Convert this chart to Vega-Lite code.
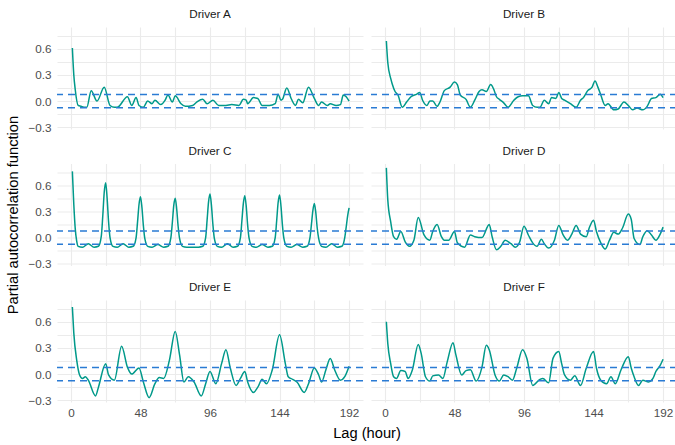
{
  "$schema": "https://vega.github.io/schema/vega-lite/v6.json",
  "background": "white",
  "padding": {"top": 9, "left": 5, "right": 0, "bottom": 5},
  "config": {
    "font": "Liberation Sans",
    "view": {"stroke": null},
    "axis": {
      "grid": true, "gridColor": "#EBEBEB", "gridWidth": 1.1,
      "domain": false, "ticks": false, "tickSize": 0,
      "labelColor": "#4D4D4D", "labelFontSize": 11.7, "labelFont": "Liberation Sans",
      "labelPadding": 5, "labelOverlap": false, "title": null
    },
    "header": {
      "labelFont": "Liberation Sans", "labelFontSize": 11.7, "labelColor": "#1A1A1A",
      "titleFont": "Liberation Sans", "titleFontSize": 14.7, "titleColor": "#000000", "titleFontWeight": "normal"
    }
  },
  "datasets": {
    "ylab": [{"t": "Partial autocorrelation function"}],
    "pacf": [
      {"driver":"Driver A","lag":1,"pacf":0.61},{"driver":"Driver A","lag":2,"pacf":0.3},{"driver":"Driver A","lag":3,"pacf":0.13},{"driver":"Driver A","lag":5,"pacf":-0.05},{"driver":"Driver A","lag":7,"pacf":-0.06},{"driver":"Driver A","lag":9,"pacf":-0.07},{"driver":"Driver A","lag":11,"pacf":-0.07},{"driver":"Driver A","lag":14,"pacf":0.12},{"driver":"Driver A","lag":18,"pacf":0.0},{"driver":"Driver A","lag":23,"pacf":0.16},{"driver":"Driver A","lag":27,"pacf":-0.05},{"driver":"Driver A","lag":30,"pacf":-0.07},{"driver":"Driver A","lag":32,"pacf":-0.07},{"driver":"Driver A","lag":39,"pacf":0.05},{"driver":"Driver A","lag":42,"pacf":-0.05},{"driver":"Driver A","lag":45,"pacf":0.04},{"driver":"Driver A","lag":47,"pacf":-0.05},{"driver":"Driver A","lag":50,"pacf":-0.07},{"driver":"Driver A","lag":53,"pacf":0.0},{"driver":"Driver A","lag":56,"pacf":-0.03},{"driver":"Driver A","lag":58,"pacf":0.01},{"driver":"Driver A","lag":62,"pacf":-0.04},{"driver":"Driver A","lag":65,"pacf":0.01},{"driver":"Driver A","lag":67,"pacf":0.07},{"driver":"Driver A","lag":70,"pacf":-0.01},{"driver":"Driver A","lag":72,"pacf":0.06},{"driver":"Driver A","lag":76,"pacf":-0.03},{"driver":"Driver A","lag":79,"pacf":-0.06},{"driver":"Driver A","lag":84,"pacf":-0.05},{"driver":"Driver A","lag":87,"pacf":-0.01},{"driver":"Driver A","lag":91,"pacf":0.02},{"driver":"Driver A","lag":94,"pacf":-0.03},{"driver":"Driver A","lag":98,"pacf":0.01},{"driver":"Driver A","lag":102,"pacf":-0.05},{"driver":"Driver A","lag":107,"pacf":-0.05},{"driver":"Driver A","lag":111,"pacf":-0.04},{"driver":"Driver A","lag":116,"pacf":-0.05},{"driver":"Driver A","lag":119,"pacf":0.02},{"driver":"Driver A","lag":121,"pacf":0.01},{"driver":"Driver A","lag":122,"pacf":-0.03},{"driver":"Driver A","lag":126,"pacf":0.04},{"driver":"Driver A","lag":129,"pacf":0.03},{"driver":"Driver A","lag":132,"pacf":-0.05},{"driver":"Driver A","lag":137,"pacf":-0.05},{"driver":"Driver A","lag":141,"pacf":-0.03},{"driver":"Driver A","lag":143,"pacf":0.08},{"driver":"Driver A","lag":145,"pacf":0.01},{"driver":"Driver A","lag":146,"pacf":0.02},{"driver":"Driver A","lag":149,"pacf":0.15},{"driver":"Driver A","lag":152,"pacf":0.03},{"driver":"Driver A","lag":155,"pacf":-0.05},{"driver":"Driver A","lag":157,"pacf":0.02},{"driver":"Driver A","lag":160,"pacf":-0.02},{"driver":"Driver A","lag":164,"pacf":0.16},{"driver":"Driver A","lag":168,"pacf":0.03},{"driver":"Driver A","lag":171,"pacf":-0.05},{"driver":"Driver A","lag":173,"pacf":-0.01},{"driver":"Driver A","lag":177,"pacf":-0.05},{"driver":"Driver A","lag":179,"pacf":-0.03},{"driver":"Driver A","lag":183,"pacf":-0.05},{"driver":"Driver A","lag":186,"pacf":-0.04},{"driver":"Driver A","lag":188,"pacf":0.07},{"driver":"Driver A","lag":190,"pacf":0.05},{"driver":"Driver A","lag":192,"pacf":0.0},

      {"driver":"Driver B","lag":1,"pacf":0.69},{"driver":"Driver B","lag":2,"pacf":0.44},{"driver":"Driver B","lag":4,"pacf":0.26},{"driver":"Driver B","lag":5,"pacf":0.2},{"driver":"Driver B","lag":7,"pacf":0.11},{"driver":"Driver B","lag":9,"pacf":0.07},{"driver":"Driver B","lag":12,"pacf":-0.07},{"driver":"Driver B","lag":15,"pacf":-0.01},{"driver":"Driver B","lag":18,"pacf":0.05},{"driver":"Driver B","lag":22,"pacf":0.08},{"driver":"Driver B","lag":24,"pacf":0.1},{"driver":"Driver B","lag":26,"pacf":0.01},{"driver":"Driver B","lag":29,"pacf":-0.05},{"driver":"Driver B","lag":31,"pacf":0.0},{"driver":"Driver B","lag":33,"pacf":0.0},{"driver":"Driver B","lag":36,"pacf":-0.06},{"driver":"Driver B","lag":38,"pacf":-0.01},{"driver":"Driver B","lag":41,"pacf":0.12},{"driver":"Driver B","lag":45,"pacf":0.16},{"driver":"Driver B","lag":48,"pacf":0.22},{"driver":"Driver B","lag":50,"pacf":0.19},{"driver":"Driver B","lag":52,"pacf":0.07},{"driver":"Driver B","lag":56,"pacf":0.02},{"driver":"Driver B","lag":59,"pacf":-0.07},{"driver":"Driver B","lag":62,"pacf":0.01},{"driver":"Driver B","lag":65,"pacf":0.11},{"driver":"Driver B","lag":67,"pacf":0.13},{"driver":"Driver B","lag":70,"pacf":0.11},{"driver":"Driver B","lag":73,"pacf":0.19},{"driver":"Driver B","lag":75,"pacf":0.14},{"driver":"Driver B","lag":77,"pacf":0.05},{"driver":"Driver B","lag":79,"pacf":0.02},{"driver":"Driver B","lag":82,"pacf":-0.02},{"driver":"Driver B","lag":85,"pacf":-0.07},{"driver":"Driver B","lag":89,"pacf":0.01},{"driver":"Driver B","lag":92,"pacf":0.05},{"driver":"Driver B","lag":95,"pacf":0.06},{"driver":"Driver B","lag":99,"pacf":0.06},{"driver":"Driver B","lag":102,"pacf":-0.05},{"driver":"Driver B","lag":105,"pacf":-0.07},{"driver":"Driver B","lag":107,"pacf":-0.07},{"driver":"Driver B","lag":110,"pacf":0.01},{"driver":"Driver B","lag":113,"pacf":-0.03},{"driver":"Driver B","lag":115,"pacf":0.04},{"driver":"Driver B","lag":118,"pacf":0.03},{"driver":"Driver B","lag":120,"pacf":0.1},{"driver":"Driver B","lag":122,"pacf":0.03},{"driver":"Driver B","lag":124,"pacf":0.01},{"driver":"Driver B","lag":128,"pacf":-0.03},{"driver":"Driver B","lag":132,"pacf":-0.07},{"driver":"Driver B","lag":135,"pacf":0.01},{"driver":"Driver B","lag":137,"pacf":0.04},{"driver":"Driver B","lag":140,"pacf":0.12},{"driver":"Driver B","lag":143,"pacf":0.16},{"driver":"Driver B","lag":145,"pacf":0.23},{"driver":"Driver B","lag":147,"pacf":0.16},{"driver":"Driver B","lag":149,"pacf":0.07},{"driver":"Driver B","lag":152,"pacf":-0.05},{"driver":"Driver B","lag":154,"pacf":-0.03},{"driver":"Driver B","lag":158,"pacf":-0.1},{"driver":"Driver B","lag":161,"pacf":-0.09},{"driver":"Driver B","lag":165,"pacf":-0.01},{"driver":"Driver B","lag":168,"pacf":-0.05},{"driver":"Driver B","lag":171,"pacf":-0.1},{"driver":"Driver B","lag":174,"pacf":-0.08},{"driver":"Driver B","lag":178,"pacf":-0.1},{"driver":"Driver B","lag":181,"pacf":-0.06},{"driver":"Driver B","lag":184,"pacf":0.03},{"driver":"Driver B","lag":187,"pacf":0.04},{"driver":"Driver B","lag":190,"pacf":0.08},{"driver":"Driver B","lag":192,"pacf":0.04},

      {"driver":"Driver C","lag":1,"pacf":0.76},{"driver":"Driver C","lag":2,"pacf":0.38},{"driver":"Driver C","lag":3,"pacf":0.1},{"driver":"Driver C","lag":4,"pacf":-0.04},{"driver":"Driver C","lag":5,"pacf":-0.1},{"driver":"Driver C","lag":8,"pacf":-0.11},{"driver":"Driver C","lag":12,"pacf":-0.07},{"driver":"Driver C","lag":16,"pacf":-0.11},{"driver":"Driver C","lag":19,"pacf":-0.1},{"driver":"Driver C","lag":21,"pacf":0.02},{"driver":"Driver C","lag":22,"pacf":0.25},{"driver":"Driver C","lag":23,"pacf":0.52},{"driver":"Driver C","lag":24,"pacf":0.63},{"driver":"Driver C","lag":25,"pacf":0.45},{"driver":"Driver C","lag":26,"pacf":0.18},{"driver":"Driver C","lag":27,"pacf":0.0},{"driver":"Driver C","lag":29,"pacf":-0.1},{"driver":"Driver C","lag":32,"pacf":-0.11},{"driver":"Driver C","lag":36,"pacf":-0.07},{"driver":"Driver C","lag":40,"pacf":-0.11},{"driver":"Driver C","lag":43,"pacf":-0.1},{"driver":"Driver C","lag":45,"pacf":0.0},{"driver":"Driver C","lag":46,"pacf":0.18},{"driver":"Driver C","lag":47,"pacf":0.38},{"driver":"Driver C","lag":48,"pacf":0.47},{"driver":"Driver C","lag":49,"pacf":0.35},{"driver":"Driver C","lag":50,"pacf":0.14},{"driver":"Driver C","lag":51,"pacf":-0.01},{"driver":"Driver C","lag":53,"pacf":-0.1},{"driver":"Driver C","lag":56,"pacf":-0.11},{"driver":"Driver C","lag":60,"pacf":-0.08},{"driver":"Driver C","lag":64,"pacf":-0.11},{"driver":"Driver C","lag":67,"pacf":-0.1},{"driver":"Driver C","lag":69,"pacf":0.0},{"driver":"Driver C","lag":70,"pacf":0.17},{"driver":"Driver C","lag":71,"pacf":0.37},{"driver":"Driver C","lag":72,"pacf":0.45},{"driver":"Driver C","lag":73,"pacf":0.33},{"driver":"Driver C","lag":74,"pacf":0.13},{"driver":"Driver C","lag":75,"pacf":-0.01},{"driver":"Driver C","lag":77,"pacf":-0.1},{"driver":"Driver C","lag":80,"pacf":-0.11},{"driver":"Driver C","lag":84,"pacf":-0.11},{"driver":"Driver C","lag":88,"pacf":-0.11},{"driver":"Driver C","lag":91,"pacf":-0.1},{"driver":"Driver C","lag":93,"pacf":0.0},{"driver":"Driver C","lag":94,"pacf":0.2},{"driver":"Driver C","lag":95,"pacf":0.41},{"driver":"Driver C","lag":96,"pacf":0.5},{"driver":"Driver C","lag":97,"pacf":0.37},{"driver":"Driver C","lag":98,"pacf":0.15},{"driver":"Driver C","lag":99,"pacf":-0.01},{"driver":"Driver C","lag":101,"pacf":-0.1},{"driver":"Driver C","lag":104,"pacf":-0.11},{"driver":"Driver C","lag":108,"pacf":-0.07},{"driver":"Driver C","lag":112,"pacf":-0.11},{"driver":"Driver C","lag":115,"pacf":-0.1},{"driver":"Driver C","lag":117,"pacf":0.0},{"driver":"Driver C","lag":118,"pacf":0.19},{"driver":"Driver C","lag":119,"pacf":0.39},{"driver":"Driver C","lag":120,"pacf":0.48},{"driver":"Driver C","lag":121,"pacf":0.36},{"driver":"Driver C","lag":122,"pacf":0.14},{"driver":"Driver C","lag":123,"pacf":-0.01},{"driver":"Driver C","lag":125,"pacf":-0.1},{"driver":"Driver C","lag":128,"pacf":-0.11},{"driver":"Driver C","lag":132,"pacf":-0.08},{"driver":"Driver C","lag":136,"pacf":-0.11},{"driver":"Driver C","lag":139,"pacf":-0.1},{"driver":"Driver C","lag":141,"pacf":0.0},{"driver":"Driver C","lag":142,"pacf":0.19},{"driver":"Driver C","lag":143,"pacf":0.4},{"driver":"Driver C","lag":144,"pacf":0.49},{"driver":"Driver C","lag":145,"pacf":0.36},{"driver":"Driver C","lag":146,"pacf":0.14},{"driver":"Driver C","lag":147,"pacf":-0.01},{"driver":"Driver C","lag":149,"pacf":-0.1},{"driver":"Driver C","lag":152,"pacf":-0.11},{"driver":"Driver C","lag":156,"pacf":-0.08},{"driver":"Driver C","lag":160,"pacf":-0.11},{"driver":"Driver C","lag":163,"pacf":-0.1},{"driver":"Driver C","lag":165,"pacf":0.0},{"driver":"Driver C","lag":166,"pacf":0.15},{"driver":"Driver C","lag":167,"pacf":0.31},{"driver":"Driver C","lag":168,"pacf":0.39},{"driver":"Driver C","lag":169,"pacf":0.29},{"driver":"Driver C","lag":170,"pacf":0.11},{"driver":"Driver C","lag":171,"pacf":-0.01},{"driver":"Driver C","lag":173,"pacf":-0.1},{"driver":"Driver C","lag":176,"pacf":-0.11},{"driver":"Driver C","lag":180,"pacf":-0.07},{"driver":"Driver C","lag":184,"pacf":-0.11},{"driver":"Driver C","lag":187,"pacf":-0.1},{"driver":"Driver C","lag":189,"pacf":0.0},{"driver":"Driver C","lag":190,"pacf":0.12},{"driver":"Driver C","lag":191,"pacf":0.25},{"driver":"Driver C","lag":192,"pacf":0.34},

      {"driver":"Driver D","lag":1,"pacf":0.8},{"driver":"Driver D","lag":2,"pacf":0.43},{"driver":"Driver D","lag":4,"pacf":0.18},{"driver":"Driver D","lag":6,"pacf":0.01},{"driver":"Driver D","lag":8,"pacf":-0.02},{"driver":"Driver D","lag":11,"pacf":0.07},{"driver":"Driver D","lag":14,"pacf":-0.05},{"driver":"Driver D","lag":17,"pacf":-0.1},{"driver":"Driver D","lag":20,"pacf":-0.03},{"driver":"Driver D","lag":23,"pacf":0.23},{"driver":"Driver D","lag":27,"pacf":0.03},{"driver":"Driver D","lag":31,"pacf":-0.03},{"driver":"Driver D","lag":33,"pacf":0.07},{"driver":"Driver D","lag":36,"pacf":0.15},{"driver":"Driver D","lag":39,"pacf":0.01},{"driver":"Driver D","lag":41,"pacf":-0.03},{"driver":"Driver D","lag":44,"pacf":-0.03},{"driver":"Driver D","lag":48,"pacf":0.07},{"driver":"Driver D","lag":50,"pacf":-0.06},{"driver":"Driver D","lag":55,"pacf":-0.11},{"driver":"Driver D","lag":59,"pacf":0.03},{"driver":"Driver D","lag":62,"pacf":0.01},{"driver":"Driver D","lag":67,"pacf":0.0},{"driver":"Driver D","lag":72,"pacf":0.15},{"driver":"Driver D","lag":74,"pacf":0.01},{"driver":"Driver D","lag":77,"pacf":-0.14},{"driver":"Driver D","lag":80,"pacf":-0.1},{"driver":"Driver D","lag":83,"pacf":-0.03},{"driver":"Driver D","lag":87,"pacf":-0.07},{"driver":"Driver D","lag":90,"pacf":-0.11},{"driver":"Driver D","lag":93,"pacf":-0.05},{"driver":"Driver D","lag":96,"pacf":0.13},{"driver":"Driver D","lag":99,"pacf":0.03},{"driver":"Driver D","lag":102,"pacf":-0.06},{"driver":"Driver D","lag":105,"pacf":-0.1},{"driver":"Driver D","lag":108,"pacf":-0.02},{"driver":"Driver D","lag":110,"pacf":-0.07},{"driver":"Driver D","lag":113,"pacf":-0.12},{"driver":"Driver D","lag":117,"pacf":-0.03},{"driver":"Driver D","lag":120,"pacf":0.14},{"driver":"Driver D","lag":123,"pacf":0.03},{"driver":"Driver D","lag":126,"pacf":-0.03},{"driver":"Driver D","lag":129,"pacf":0.04},{"driver":"Driver D","lag":132,"pacf":0.14},{"driver":"Driver D","lag":135,"pacf":0.04},{"driver":"Driver D","lag":139,"pacf":0.01},{"driver":"Driver D","lag":141,"pacf":0.11},{"driver":"Driver D","lag":144,"pacf":0.2},{"driver":"Driver D","lag":146,"pacf":0.07},{"driver":"Driver D","lag":149,"pacf":-0.06},{"driver":"Driver D","lag":152,"pacf":-0.13},{"driver":"Driver D","lag":155,"pacf":-0.03},{"driver":"Driver D","lag":158,"pacf":0.06},{"driver":"Driver D","lag":161,"pacf":0.04},{"driver":"Driver D","lag":164,"pacf":0.11},{"driver":"Driver D","lag":168,"pacf":0.27},{"driver":"Driver D","lag":170,"pacf":0.21},{"driver":"Driver D","lag":172,"pacf":-0.01},{"driver":"Driver D","lag":176,"pacf":-0.08},{"driver":"Driver D","lag":178,"pacf":0.01},{"driver":"Driver D","lag":181,"pacf":0.08},{"driver":"Driver D","lag":184,"pacf":0.03},{"driver":"Driver D","lag":187,"pacf":-0.03},{"driver":"Driver D","lag":190,"pacf":0.04},{"driver":"Driver D","lag":192,"pacf":0.12},

      {"driver":"Driver E","lag":1,"pacf":0.77},{"driver":"Driver E","lag":2,"pacf":0.47},{"driver":"Driver E","lag":4,"pacf":0.16},{"driver":"Driver E","lag":6,"pacf":-0.01},{"driver":"Driver E","lag":8,"pacf":-0.05},{"driver":"Driver E","lag":10,"pacf":-0.03},{"driver":"Driver E","lag":12,"pacf":-0.07},{"driver":"Driver E","lag":17,"pacf":-0.25},{"driver":"Driver E","lag":19,"pacf":-0.15},{"driver":"Driver E","lag":24,"pacf":0.12},{"driver":"Driver E","lag":26,"pacf":-0.01},{"driver":"Driver E","lag":30,"pacf":-0.07},{"driver":"Driver E","lag":35,"pacf":0.32},{"driver":"Driver E","lag":39,"pacf":0.08},{"driver":"Driver E","lag":42,"pacf":0.0},{"driver":"Driver E","lag":47,"pacf":0.07},{"driver":"Driver E","lag":50,"pacf":-0.09},{"driver":"Driver E","lag":54,"pacf":-0.27},{"driver":"Driver E","lag":58,"pacf":-0.11},{"driver":"Driver E","lag":61,"pacf":-0.04},{"driver":"Driver E","lag":64,"pacf":-0.05},{"driver":"Driver E","lag":68,"pacf":0.16},{"driver":"Driver E","lag":72,"pacf":0.49},{"driver":"Driver E","lag":75,"pacf":0.22},{"driver":"Driver E","lag":78,"pacf":-0.09},{"driver":"Driver E","lag":81,"pacf":-0.03},{"driver":"Driver E","lag":85,"pacf":-0.09},{"driver":"Driver E","lag":90,"pacf":-0.25},{"driver":"Driver E","lag":93,"pacf":-0.11},{"driver":"Driver E","lag":96,"pacf":0.03},{"driver":"Driver E","lag":100,"pacf":-0.11},{"driver":"Driver E","lag":104,"pacf":0.12},{"driver":"Driver E","lag":107,"pacf":0.28},{"driver":"Driver E","lag":110,"pacf":0.07},{"driver":"Driver E","lag":114,"pacf":-0.13},{"driver":"Driver E","lag":117,"pacf":-0.05},{"driver":"Driver E","lag":120,"pacf":0.03},{"driver":"Driver E","lag":122,"pacf":-0.09},{"driver":"Driver E","lag":126,"pacf":-0.21},{"driver":"Driver E","lag":129,"pacf":-0.15},{"driver":"Driver E","lag":132,"pacf":-0.06},{"driver":"Driver E","lag":135,"pacf":-0.11},{"driver":"Driver E","lag":139,"pacf":0.05},{"driver":"Driver E","lag":144,"pacf":0.45},{"driver":"Driver E","lag":148,"pacf":0.12},{"driver":"Driver E","lag":150,"pacf":-0.03},{"driver":"Driver E","lag":153,"pacf":-0.06},{"driver":"Driver E","lag":156,"pacf":-0.09},{"driver":"Driver E","lag":161,"pacf":-0.21},{"driver":"Driver E","lag":164,"pacf":-0.11},{"driver":"Driver E","lag":168,"pacf":0.07},{"driver":"Driver E","lag":171,"pacf":-0.01},{"driver":"Driver E","lag":173,"pacf":-0.09},{"driver":"Driver E","lag":176,"pacf":0.05},{"driver":"Driver E","lag":179,"pacf":0.18},{"driver":"Driver E","lag":182,"pacf":0.05},{"driver":"Driver E","lag":186,"pacf":-0.07},{"driver":"Driver E","lag":189,"pacf":-0.03},{"driver":"Driver E","lag":192,"pacf":0.09},

      {"driver":"Driver F","lag":1,"pacf":0.6},{"driver":"Driver F","lag":2,"pacf":0.35},{"driver":"Driver F","lag":4,"pacf":0.12},{"driver":"Driver F","lag":6,"pacf":-0.03},{"driver":"Driver F","lag":8,"pacf":-0.05},{"driver":"Driver F","lag":11,"pacf":0.04},{"driver":"Driver F","lag":14,"pacf":0.03},{"driver":"Driver F","lag":16,"pacf":-0.05},{"driver":"Driver F","lag":19,"pacf":0.05},{"driver":"Driver F","lag":23,"pacf":0.34},{"driver":"Driver F","lag":25,"pacf":0.24},{"driver":"Driver F","lag":28,"pacf":-0.03},{"driver":"Driver F","lag":31,"pacf":-0.08},{"driver":"Driver F","lag":33,"pacf":-0.02},{"driver":"Driver F","lag":37,"pacf":-0.01},{"driver":"Driver F","lag":40,"pacf":-0.05},{"driver":"Driver F","lag":43,"pacf":0.14},{"driver":"Driver F","lag":47,"pacf":0.36},{"driver":"Driver F","lag":49,"pacf":0.22},{"driver":"Driver F","lag":53,"pacf":-0.01},{"driver":"Driver F","lag":56,"pacf":0.04},{"driver":"Driver F","lag":59,"pacf":0.05},{"driver":"Driver F","lag":63,"pacf":-0.08},{"driver":"Driver F","lag":67,"pacf":0.08},{"driver":"Driver F","lag":70,"pacf":0.33},{"driver":"Driver F","lag":72,"pacf":0.28},{"driver":"Driver F","lag":76,"pacf":-0.01},{"driver":"Driver F","lag":79,"pacf":-0.08},{"driver":"Driver F","lag":82,"pacf":-0.01},{"driver":"Driver F","lag":85,"pacf":-0.03},{"driver":"Driver F","lag":88,"pacf":-0.07},{"driver":"Driver F","lag":91,"pacf":0.07},{"driver":"Driver F","lag":95,"pacf":0.28},{"driver":"Driver F","lag":98,"pacf":0.18},{"driver":"Driver F","lag":102,"pacf":-0.13},{"driver":"Driver F","lag":107,"pacf":-0.06},{"driver":"Driver F","lag":109,"pacf":-0.05},{"driver":"Driver F","lag":113,"pacf":-0.1},{"driver":"Driver F","lag":116,"pacf":0.18},{"driver":"Driver F","lag":120,"pacf":0.26},{"driver":"Driver F","lag":122,"pacf":0.12},{"driver":"Driver F","lag":124,"pacf":-0.01},{"driver":"Driver F","lag":128,"pacf":-0.07},{"driver":"Driver F","lag":131,"pacf":-0.02},{"driver":"Driver F","lag":135,"pacf":-0.13},{"driver":"Driver F","lag":139,"pacf":0.07},{"driver":"Driver F","lag":144,"pacf":0.26},{"driver":"Driver F","lag":146,"pacf":0.07},{"driver":"Driver F","lag":149,"pacf":-0.07},{"driver":"Driver F","lag":153,"pacf":-0.11},{"driver":"Driver F","lag":156,"pacf":-0.03},{"driver":"Driver F","lag":159,"pacf":-0.11},{"driver":"Driver F","lag":163,"pacf":0.05},{"driver":"Driver F","lag":168,"pacf":0.2},{"driver":"Driver F","lag":170,"pacf":0.07},{"driver":"Driver F","lag":172,"pacf":-0.03},{"driver":"Driver F","lag":175,"pacf":-0.13},{"driver":"Driver F","lag":178,"pacf":-0.07},{"driver":"Driver F","lag":182,"pacf":-0.09},{"driver":"Driver F","lag":185,"pacf":-0.05},{"driver":"Driver F","lag":187,"pacf":0.03},{"driver":"Driver F","lag":190,"pacf":0.1},{"driver":"Driver F","lag":192,"pacf":0.17}
    ]
  },
  "spacing": 4,
  "hconcat": [
    {
      "data": {"name": "ylab"},
      "width": 18,
      "height": 376,
      "mark": {"type": "text", "angle": 270, "fontSize": 14.7, "font": "Liberation Sans", "color": "#000000", "align": "center", "baseline": "middle"},
      "encoding": {"text": {"field": "t", "type": "nominal"}}
    },
    {
      "data": {"name": "pacf"},
      "columns": 2,
      "spacing": {"row": 16.5, "column": 6},
      "facet": {
        "field": "driver", "type": "nominal", "title": "Lag (hour)",
        "header": {"titleOrient": "bottom", "labelOrient": "top", "labelPadding": 6, "titlePadding": 7}
      },
      "spec": {
        "width": 306,
        "height": 102,
        "layer": [
          {
            "mark": {"type": "line", "color": "#00998A", "strokeWidth": 1.5, "interpolate": "monotone", "clip": true},
            "encoding": {
              "x": {"field": "lag", "type": "quantitative",
                    "scale": {"domain": [-9.6, 201.6], "nice": false, "zero": false},
                    "axis": {"values": [0, 24, 48, 72, 96, 120, 144, 168, 192], "tickCount": 30, "labelOverlap": false, "labelExpr": "round(datum.value) % 48 == 0 ? datum.label : ''", "title": null}},
              "y": {"field": "pacf", "type": "quantitative",
                    "scale": {"domain": [-0.32, 0.85], "nice": false, "zero": false},
                    "axis": {"values": [-0.3, -0.15, 0, 0.15, 0.3, 0.45, 0.6, 0.75], "tickCount": 30, "labelOverlap": false,
                             "labelExpr": "(round(datum.value * 100) == -30 || round(datum.value * 100) == 0 || round(datum.value * 100) == 30 || round(datum.value * 100) == 60) ? replace(format(datum.value, '.1f'), '-', '\u2212') : ''", "title": null}}
            }
          },
          {
            "transform": [{"filter": "datum.lag == 1"}],
            "mark": {"type": "rule", "color": "#2A7BD4", "strokeWidth": 1.5, "strokeDash": [7, 5]},
            "encoding": {"y": {"datum": 0.075, "type": "quantitative"}}
          },
          {
            "transform": [{"filter": "datum.lag == 1"}],
            "mark": {"type": "rule", "color": "#2A7BD4", "strokeWidth": 1.5, "strokeDash": [7, 5]},
            "encoding": {"y": {"datum": -0.075, "type": "quantitative"}}
          }
        ]
      }
    }
  ]
}
